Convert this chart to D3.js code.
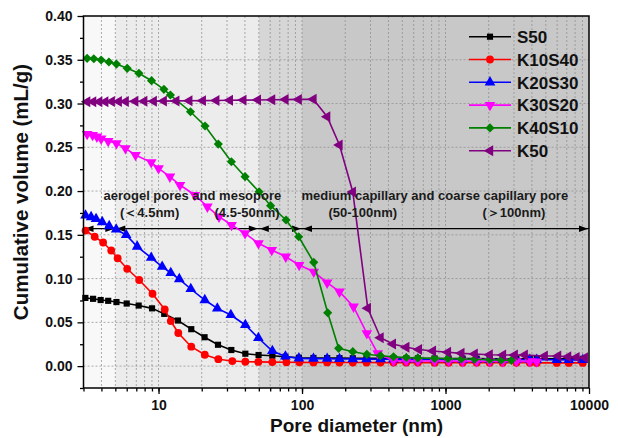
<!DOCTYPE html>
<html>
<head>
<meta charset="utf-8">
<script src="https://cdn.jsdelivr.net/npm/d3@7"></script>
<style>
  body { margin: 0; background: #fff; }
  svg { display: block; font-family: "Liberation Sans", Arial, sans-serif; }
</style>
</head>
<body>
<svg id="chart" width="618" height="438"></svg>
<script>
// ---- Pore size distribution data (pore diameter in nm, cumulative volume in mL/g) ----
const seriesNames = ["S50", "K10S40", "K20S30", "K30S20", "K40S10", "K50"];

// shared intrusion diameters for the coarse-pore tail
const tailX = [120.1, 149.7, 182.4, 225.9, 281.4, 352.5, 434.3, 532.7, 641.9, 839.5, 1051,
               1316, 1648, 2031, 2502, 3119, 3863, 4322, 5962, 7228, 9050];

const s50X = [3.09, 3.50, 3.95, 4.46, 5.09, 6.00, 7.27, 9.01, 10.96, 13.66, 16.91, 20.94, 25.97,
              32.16, 40.27, 49.79, 62.14, 76.6, 95.1].concat(tailX);
const s50Y = [0.0779, 0.0769, 0.0755, 0.0746, 0.0732, 0.0715, 0.0692, 0.0660, 0.0597, 0.0521,
              0.0422, 0.0330, 0.0244, 0.0184, 0.0142, 0.0127, 0.0119, 0.0107, 0.0096,
              0.0093, 0.0092, 0.0091, 0.0090, 0.0090, 0.0089, 0.0089, 0.0088, 0.0088, 0.0087,
              0.0087, 0.0086, 0.0086, 0.0085, 0.0085, 0.0085, 0.0084, 0.0084, 0.0084, 0.0083, 0.0083];

const k10s40X = [3.10, 3.59, 4.11, 4.68, 5.19, 6.05, 7.33, 9.08, 11.05, 12.17, 13.73, 16.91, 21.01,
                 26.10, 32.68, 40.27, 49.6, 62.1, 77.8, 95.9].concat(tailX);
const k10s40Y = [0.1549, 0.1478, 0.1412, 0.1321, 0.1232, 0.1112, 0.0984, 0.0827, 0.0647, 0.0515,
                 0.0378, 0.0222, 0.0130, 0.0079, 0.0058, 0.0050, 0.0048, 0.0046, 0.0044, 0.0043,
                 0.0042, 0.0042, 0.0041, 0.0041, 0.0041, 0.0040, 0.0040, 0.0040, 0.0040, 0.0039,
                 0.0039, 0.0039, 0.0039, 0.0038, 0.0038, 0.0038, 0.0038, 0.0037, 0.0037, 0.0037, 0.0037];

const k20s30X = [3.10, 3.39, 3.67, 4.05, 4.53, 5.07, 5.95, 7.10, 8.89, 10.6, 12.17, 13.95, 16.78,
                 21.01, 25.68, 31.90, 40.27, 49.63, 62.14, 76.6, 95.1].concat(tailX);
const k20s30Y = [0.1721, 0.1703, 0.1681, 0.1646, 0.1600, 0.1561, 0.1498, 0.1366, 0.1238, 0.1136,
                 0.1064, 0.0995, 0.0881, 0.0755, 0.0660, 0.0584, 0.0470, 0.0321, 0.0173, 0.0110, 0.0089,
                 0.0086, 0.0084, 0.0082, 0.0081, 0.0080, 0.0079, 0.0078, 0.0078, 0.0077, 0.0076,
                 0.0076, 0.0075, 0.0075, 0.0074, 0.0074, 0.0073, 0.0073, 0.0072, 0.0072, 0.0071, 0.0071];

const k30s20X = [3.18, 3.47, 3.72, 3.98, 4.46, 5.09, 5.88, 6.91, 8.89, 10.0, 12.0, 14.1, 17.9, 21.9,
                 26.4, 32.3, 40.1, 49.7, 61.5, 77.0, 95.5, 120.7, 149.6, 182.4, 228.6, 283, 337,
                 434.3, 532.7, 641.9, 839.5, 1051, 1316, 1648, 2031, 2502, 3119, 3863, 4322];
const k30s20Y = [0.2651, 0.2640, 0.2621, 0.2598, 0.2572, 0.2545, 0.2488, 0.2412, 0.2328, 0.2260,
                 0.2164, 0.2069, 0.1955, 0.1821, 0.1707, 0.1612, 0.1517, 0.1403, 0.1326, 0.1250,
                 0.1155, 0.1078, 0.0953, 0.0850, 0.0679, 0.0375, 0.0146,
                 0.0062, 0.0060, 0.0059, 0.0058, 0.0057, 0.0056, 0.0056, 0.0055, 0.0055, 0.0054, 0.0054, 0.0053];

const k40s10X = [3.18, 3.54, 3.98, 4.51, 5.09, 6.05, 7.30, 8.94, 10.9, 12.1, 16.7, 21.1, 26.1, 32.2,
                 40.1, 50.2, 60.4, 77.4, 94.8, 120.7, 151, 180, 226, 283, 352, 434, 533, 641, 839,
                 1040, 1289, 1596, 2032, 2451, 2877];
const k40s10Y = [0.3516, 0.3512, 0.3497, 0.3474, 0.3451, 0.3402, 0.3345, 0.3261, 0.3162, 0.3097,
                 0.2906, 0.2743, 0.2537, 0.2335, 0.2164, 0.1992, 0.1833, 0.1669, 0.1478, 0.1186,
                 0.0610, 0.0203, 0.0165, 0.0135, 0.0119, 0.0107, 0.0098, 0.0092, 0.0088, 0.0085,
                 0.0081, 0.0078, 0.0073, 0.0070, 0.0066];

const k50X = [3.18, 3.50, 3.86, 4.25, 4.72, 5.28, 5.90, 6.88, 7.95, 9.26, 10.87, 13.29, 16.38, 20.34,
              25.27, 31.39, 39.00, 49.23, 61.84, 76.6, 94.8, 120.1, 149.7, 182.4, 225.9, 287.3, 352.5,
              429.5, 532.7, 652.3, 816.8, 1039, 1289, 1596, 2031, 2515, 3035, 3565, 4915, 6087,
              7149, 8180, 9348];
const k50Y = [0.3020, 0.3020, 0.3021, 0.3021, 0.3022, 0.3023, 0.3024, 0.3025, 0.3026, 0.3027,
              0.3028, 0.3030, 0.3031, 0.3033, 0.3035, 0.3037, 0.3039, 0.3041, 0.3043, 0.3045,
              0.3047, 0.3048, 0.2850, 0.2526, 0.1990, 0.0660, 0.0324, 0.0253, 0.0215, 0.0190,
              0.0173, 0.0158, 0.0146, 0.0138, 0.0130, 0.0127, 0.0127, 0.0127, 0.0115, 0.0115,
              0.0107, 0.0100, 0.0096];

// axis ticks
const yTickValues = [0.00, 0.05, 0.10, 0.15, 0.20, 0.25, 0.30, 0.35, 0.40];
const xTickLabels = [10, 100, 1000, 10000];

// pore-class ranges (nm) and the divider line value
const regionBounds = [3, 5, 50, 100, 10000];
const dividerValue = 0.157;

// ---- styling ----
const colors = ["#000000", "#ff0000", "#0000ff", "#ff00ff", "#008000", "#800080"];
const regionFills = ["#f8f8f8", "#ececec", "#d6d6d6", "#c8c8c8"];
const symbolTypes = [d3.symbolSquare, d3.symbolCircle, d3.symbolTriangle, d3.symbolTriangle,
                     d3.symbolSquare, d3.symbolTriangle];
const symbolRotate = [0, 0, 0, 180, 45, -90];
const symbolSize = [38, 48, 50, 50, 42, 52];

const series = [
  { x: s50X, y: s50Y }, { x: k10s40X, y: k10s40Y }, { x: k20s30X, y: k20s30Y },
  { x: k30s20X, y: k30s20Y }, { x: k40s10X, y: k40s10Y }, { x: k50X, y: k50Y }
].map((s, i) => ({
  name: seriesNames[i],
  points: s.x.map((v, j) => ({ d: v, v: s.y[j] }))
}));

const plot = { left: 83.5, right: 589, top: 16, bottom: 388 };

const svg = d3.select("#chart");
const x = d3.scaleLog().domain([3, 10000]).range([plot.left, plot.right]);
const y = d3.scaleLinear().domain([-0.025, 0.40]).range([plot.bottom, plot.top]);

// background bands for pore classes
svg.append("g").selectAll("rect")
  .data(d3.pairs(regionBounds))
  .join("rect")
  .attr("x", d => x(d[0]))
  .attr("y", plot.top)
  .attr("width", d => x(d[1]) - x(d[0]))
  .attr("height", plot.bottom - plot.top)
  .attr("fill", (d, i) => regionFills[i]);

// dashed grid
const minorX = [];
for (let dec = 1; dec <= 1000; dec *= 10) {
  for (let k = 1; k <= 9; k++) {
    const v = k * dec;
    if (v >= 3 && v < 10000) minorX.push(v);
  }
}
const grid = svg.append("g").attr("stroke", "#8a8a8a").attr("stroke-width", 0.7)
  .attr("stroke-dasharray", "2,2");
grid.selectAll(".gx").data(minorX.filter(v => v > 3)).join("line")
  .attr("x1", d => x(d)).attr("x2", d => x(d))
  .attr("y1", plot.top).attr("y2", plot.bottom);
grid.selectAll(".gy").data(yTickValues.filter(v => v < 0.4)).join("line")
  .attr("x1", plot.left).attr("x2", plot.right)
  .attr("y1", d => y(d)).attr("y2", d => y(d));

// divider line with arrows marking each pore class range
const arrowG = svg.append("g");
const yDiv = y(dividerValue);
arrowG.append("line")
  .attr("x1", x(regionBounds[0])).attr("x2", x(regionBounds[regionBounds.length - 1]))
  .attr("y1", yDiv).attr("y2", yDiv)
  .attr("stroke", "#000").attr("stroke-width", 1.3);
const headLen = 9, headHalf = 3.3;
d3.pairs(regionBounds).forEach(([a, b]) => {
  const xa = x(a) + 1, xb = x(b) - 1;
  arrowG.append("path")
    .attr("d", `M${xa},${yDiv}L${xa + headLen},${yDiv - headHalf}L${xa + headLen},${yDiv + headHalf}Z`)
    .attr("fill", "#000");
  arrowG.append("path")
    .attr("d", `M${xb},${yDiv}L${xb - headLen},${yDiv - headHalf}L${xb - headLen},${yDiv + headHalf}Z`)
    .attr("fill", "#000");
});

// series lines and markers
const line = d3.line().x(d => x(d.d)).y(d => y(d.v));
const symbolPath = i => d3.symbol().type(symbolTypes[i]).size(symbolSize[i])();
series.forEach((s, i) => {
  const g = svg.append("g");
  g.append("path").datum(s.points)
    .attr("d", line).attr("fill", "none")
    .attr("stroke", colors[i]).attr("stroke-width", 1.6);
  g.selectAll("path.m").data(s.points).join("path")
    .attr("class", "m")
    .attr("d", symbolPath(i))
    .attr("transform", d => `translate(${x(d.d)},${y(d.v)}) rotate(${symbolRotate[i]})`)
    .attr("fill", colors[i]);
});

// frame
svg.append("rect")
  .attr("x", plot.left).attr("y", plot.top)
  .attr("width", plot.right - plot.left).attr("height", plot.bottom - plot.top)
  .attr("fill", "none").attr("stroke", "#000").attr("stroke-width", 1.5);

// axes
const xAxisG = svg.append("g").attr("transform", `translate(0,${plot.bottom})`);
xAxisG.call(d3.axisBottom(x).tickValues(minorX).tickSize(3.5).tickFormat(""));
xAxisG.append("g").call(d3.axisBottom(x).tickValues(xTickLabels).tickSize(6).tickPadding(6)
  .tickFormat(d3.format("d")));
const yAxisG = svg.append("g").attr("transform", `translate(${plot.left},0)`);
yAxisG.call(d3.axisLeft(y).tickValues(d3.range(-0.025, 0.4, 0.05)).tickSize(3.5).tickFormat(""));
yAxisG.append("g").call(d3.axisLeft(y).tickValues(yTickValues).tickSize(6).tickPadding(5)
  .tickFormat(d3.format(".2f")));
svg.selectAll(".domain").remove();
svg.selectAll(".tick line").attr("stroke", "#000").attr("stroke-width", 1.3);
svg.selectAll(".tick text").attr("font-family", "Liberation Sans, Arial, sans-serif")
  .attr("font-size", 14).attr("font-weight", "bold").attr("fill", "#111");

// axis titles
svg.append("text")
  .attr("x", 270).attr("y", 431.5)
  .attr("font-size", 19).attr("font-weight", "bold").attr("fill", "#111")
  .text("Pore diameter (nm)");
svg.append("text")
  .attr("transform", "translate(28,192) rotate(-90)")
  .attr("text-anchor", "middle")
  .attr("font-size", 20.5).attr("font-weight", "bold").attr("fill", "#111")
  .text("Cumulative volume (mL/g)");

// pore class annotations
const notes = [
  { t: "aerogel pores and mesopore", px: 103.5, py: 199.5 },
  { t: "(＜4.5nm)", px: 120, py: 216.5 },
  { t: "(4.5-50nm)", px: 214.5, py: 216.5 },
  { t: "medium capillary and coarse capillary pore", px: 301.5, py: 199.5 },
  { t: "(50-100nm)", px: 328.5, py: 217 },
  { t: "(＞100nm)", px: 482.5, py: 217 }
];
svg.append("g").selectAll("text").data(notes).join("text")
  .attr("x", d => d.px).attr("y", d => d.py)
  .attr("font-size", 13).attr("font-weight", "bold").attr("fill", "#1a1a1a")
  .text(d => d.t);

// legend
const legend = svg.append("g");
seriesNames.forEach((name, i) => {
  const cy = 36.7 + i * 22.8;
  legend.append("line").attr("x1", 469).attr("x2", 511).attr("y1", cy).attr("y2", cy)
    .attr("stroke", colors[i]).attr("stroke-width", 1.6);
  legend.append("path").attr("d", symbolPath(i))
    .attr("transform", `translate(490,${cy}) rotate(${symbolRotate[i]})`)
    .attr("fill", colors[i]);
  legend.append("text").attr("x", 517).attr("y", cy + 6.2)
    .attr("font-size", 17).attr("font-weight", "bold").attr("fill", "#111")
    .text(name);
});
</script>
</body>
</html>
